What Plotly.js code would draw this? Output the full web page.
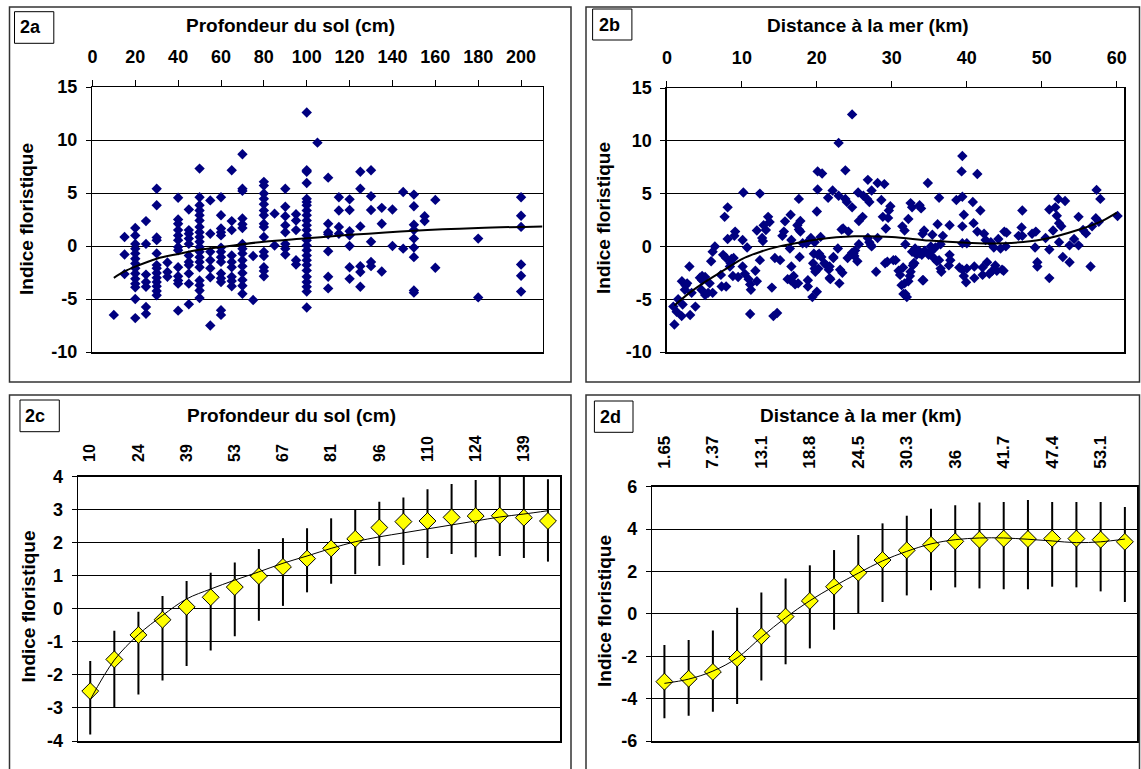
<!DOCTYPE html>
<html>
<head>
<meta charset="utf-8">
<script src="https://cdn.plot.ly/plotly-3.0.1.min.js"></script>
<style>html,body{margin:0;padding:0;background:#fff;}#chart{width:1141px;height:769px;}</style>
</head>
<body>
<div id="chart"></div>
<script>
// ---------- 2a : Profondeur du sol (cm) vs Indice floristique ----------
const a_depth = [10,
15,15,15,
20,20,20,20,20,20,20,20,20,20,20,20,20,20,
25,25,25,25,25,25,25,
30,30,30,30,30,30,30,30,30,30,30,30,30,
35,35,35,
40,40,40,40,40,40,40,40,40,40,40,40,40,
45,45,45,45,45,45,45,45,45,45,45,
50,50,50,50,50,50,50,50,50,50,50,50,50,50,50,50,50,50,50,
55,55,55,55,55,55,55,
60,60,60,60,60,60,60,60,60,60,60,60,60,60,
65,65,65,65,65,65,65,65,65,
70,70,70,70,70,70,70,70,70,70,70,70,70,70,70,
75,75,
80,80,80,80,80,80,80,80,80,80,80,80,80,80,80,
85,85,
90,90,90,90,90,90,90,90,
95,95,95,95,95,
100,100,100,100,100,100,100,100,100,100,100,100,100,100,100,100,100,100,100,100,100,100,100,100,100,
105,
110,110,110,110,110,110,110,
115,115,115,115,
120,120,120,120,120,120,120,
125,125,125,125,125,125,
130,130,130,130,130,130,
135,135,135,
140,140,
145,145,
150,150,150,150,150,150,150,150,150,
155,155,
160,160,
180,180,
200,200,200,200,200,200];
const a_index = [-6.5,
0.85,-0.8,-2.65,
1.7,1.0,0.2,-0.25,-0.7,-1.2,-1.65,-2.1,-2.6,-3.1,-3.55,-3.9,-5.0,-6.8,
2.35,0.2,-2.7,-3.4,-3.85,-5.75,-6.4,
5.4,3.85,0.8,0.55,-0.7,-1.8,-2.1,-2.55,-3.0,-3.4,-3.8,-4.25,-4.65,
-1.55,-2.45,-2.9,
4.55,2.5,2.1,1.5,1.0,0.55,-0.1,-0.4,-2.0,-2.85,-3.25,-3.55,-6.1,
3.45,1.5,1.15,0.7,0.2,-0.9,-1.5,-1.8,-2.6,-3.55,-5.5,
7.3,4.6,3.85,3.35,2.9,2.4,1.8,1.3,0.85,0.4,-0.1,-0.55,-1.05,-1.5,-2.0,-3.25,-3.7,-4.2,-4.9,
4.3,1.15,-0.55,-1.35,-2.1,-2.95,-7.5,
4.6,2.9,1.65,1.3,1.0,-0.15,-0.55,-1.05,-1.5,-2.6,-3.05,-3.4,-6.05,-6.5,
7.15,2.35,1.5,-0.9,-1.5,-2.0,-2.9,-3.3,-3.8,
8.65,5.4,5.2,2.6,2.05,1.7,0.2,-0.25,-0.7,-1.35,-1.9,-2.55,-3.2,-3.75,-4.5,
-0.95,-5.1,
6.05,5.7,4.95,4.45,3.95,3.35,2.9,2.1,1.8,0.85,-0.55,-0.95,-2.0,-2.35,-2.85,
3.05,0.05,
5.4,3.7,2.8,1.95,1.3,0.2,-0.25,-0.8,
3.0,2.4,1.5,-1.35,-1.75,
12.6,7.15,7.0,5.95,4.45,4.15,3.85,3.35,2.9,2.4,1.95,1.5,1.0,0.55,0.05,-0.4,-0.9,-1.35,-1.8,-2.3,-2.9,-3.4,-3.85,-4.3,-5.8,
9.75,
6.45,2.1,1.3,1.1,-0.5,-2.9,-4.0,
4.6,3.35,1.8,1.15,
4.4,3.4,1.4,1.0,0.0,-2.0,-3.1,
7.0,5.4,1.85,-1.9,-2.45,-3.85,
7.15,4.7,3.4,0.4,-1.5,-1.9,
3.6,2.1,-2.4,
3.45,0.0,
5.1,-0.25,
4.85,3.75,2.0,1.5,0.7,-0.15,-1.05,-4.2,-4.4,
2.8,2.35,
4.35,-2.05,
0.7,-4.85,
4.6,2.85,1.8,-1.75,-2.8,-4.3];
const a_trend_x = [10,15,20,30,40,50,60,80,100,120,150,180,210];
const a_trend_y = [-3.0,-2.4,-1.95,-1.2,-0.75,-0.35,-0.1,0.4,0.72,1.05,1.45,1.7,1.85];

// ---------- 2b : Distance à la mer (km) vs Indice floristique ----------
const b_dist = [1.0,0.86,1.3,1.97,3.1,1.5,2.1,2.0,2.5,2.4,3.0,3.3,3.8,4.7,5.1,4.6,5.1,5.5,6.1,5.9,6.1,6.4,7.2,7.3,7.5,7.9,7.7,8.1,7.9,8.1,8.4,8.9,8.6,9.1,9.0,8.8,9.5,10.1,10.1,10.2,10.4,10.7,10.9,11.1,11.1,11.8,12.0,12.4,12.4,12.7,12.8,12.9,13.5,14.0,14.2,14.7,14.4,15.1,15.4,15.6,16.1,16.5,16.6,16.5,16.6,16.9,17.1,17.5,17.6,17.4,17.6,
4.4,5.7,8.5,11.2,13.2,13.7,15.75,16.4,2.7,4.7,12.0,
17.8,17.8,17.7,18.8,18.8,19.4,20.0,19.5,19.7,19.8,20.1,20.6,21.0,21.3,21.7,21.7,22.2,22.8,23.0,23.1,23.4,24.1,24.7,25.1,25.4,25.0,25.6,27.0,27.3,27.9,28.1,29.1,30.5,30.9,31.1,31.5,31.7,31.8,32.0,31.8,32.2,32.4,32.5,32.8,33.0,32.7,33.1,33.3,33.6,34.0,34.2,34.4,34.9,35.2,35.6,36.0,
24.7,22.9,20.1,20.7,23.8,20.1,22.1,21.5,22.9,23.8,24.0,24.7,25.5,26.8,26.2,26.7,27.0,27.3,28.1,29.0,28.6,29.8,29.6,28.8,29.5,26.1,25.6,20.0,23.5,24.2,26.8,31.4,31.7,32.5,32.7,33.9,33.7,32.2,34.3,34.1,34.8,35.4,
18.1,18.6,19.2,19.6,19.7,20.5,20.2,20.3,21.6,21.8,22.2,23.3,24.9,27.2,29.2,29.4,30.2,31.3,31.55,32.9,33.7,34.1,35.2,
39.4,39.3,41.4,36.3,38.6,39.4,40.8,39.6,41.8,40.9,39.4,37.7,36.1,36.8,41.4,42.3,42.5,43.2,44.2,45.0,45.3,39.4,40.0,43.6,44.5,45.2,35.8,36.5,36.3,37.7,37.8,37.6,36.6,36.5,39.0,39.4,40.0,39.6,39.9,41.0,41.0,42.1,42.7,42.1,43.0,43.4,43.8,44.0,44.7,44.9,47.4,47.3,47.4,46.9,48.7,49.2,49.1,49.4,49.4,50.5,51.0,51.0,51.8,52.2,53.1,52.0,51.5,52.3,52.6,51.0,52.3,52.8,53.7,54.3,53.7,54.9,54.9,
55.5,55.9,56.5,56.7,57.3,57.2,57.6,57.8,60.1];
const b_index = [-7.4,-5.7,-6.2,-6.6,-6.5,-5.0,-5.5,-3.3,-3.7,-4.1,-1.9,-4.4,-5.7,-3.2,-2.9,-4.1,-4.6,-4.4,-4.4,-1.4,-0.5,0.0,-2.7,-3.8,-0.8,-1.1,2.8,3.7,-3.8,0.7,-1.9,-1.1,-1.2,1.4,1.0,-2.8,-2.9,0.6,-1.9,5.1,-2.6,-0.1,-3.1,-3.6,-6.4,-2.3,1.5,5.0,-1.3,0.8,0.5,2.0,2.8,-3.9,-6.6,-6.3,-1.1,-1.3,1.0,1.4,-3.1,-3.2,-1.9,3.0,0.6,-2.8,-3.6,-3.5,4.5,2.0,1.6,
-2.97,-3.5,-1.6,-4.1,1.55,2.3,2.37,-0.2,-3.5,-2.8,-3.3,
2.4,1.4,-1.0,-3.2,-3.8,-4.8,-4.3,-1.6,-2.1,-2.4,-0.8,-1.0,-1.6,-1.8,-1.9,-3.0,-1.1,-0.2,-3.5,-2.2,-2.5,-1.1,-0.6,-0.4,-1.4,-0.9,0.2,0.4,0.0,-2.4,0.8,-1.6,-1.3,-2.3,-2.7,-2.0,-3.5,-4.5,-4.8,0.2,-3.3,-2.8,-2.4,-1.8,-1.6,-0.5,-0.2,-0.8,-0.4,-0.8,-3.2,-0.4,-0.8,0.0,-1.1,-1.4,
12.5,9.8,7.1,6.9,7.2,5.4,5.3,4.6,4.8,4.5,4.2,3.7,5.1,6.3,4.8,4.5,4.2,5.3,6.0,5.9,4.4,3.8,3.4,2.8,2.7,2.8,2.4,3.3,1.7,1.4,0.8,1.9,1.5,4.1,3.7,3.6,3.9,2.6,1.5,1.2,6.0,1.1,
0.3,0.3,0.8,-0.7,0.4,0.9,-2.1,-0.7,-2.2,-3.1,-1.0,1.6,-0.66,0.13,1.7,-1.45,-1.3,-3.67,-4.5,-1.6,-0.66,-3.2,-0.5,
8.56,7.1,6.85,4.6,4.4,4.7,4.2,3.0,3.4,2.2,1.9,2.0,2.1,1.0,1.4,1.2,0.6,0.4,0.7,1.4,1.3,0.3,0.3,-0.1,-0.2,0.0,-0.1,0.2,-1.3,-0.8,-1.3,-1.8,-2.4,-2.1,-2.0,-2.2,-2.1,-2.8,-3.4,-1.9,-3.0,-2.0,-1.5,-2.7,-2.6,-2.3,-1.8,-2.3,-2.2,-2.3,3.4,1.8,1.0,1.0,1.2,1.4,-0.1,-1.5,-1.9,0.8,-0.3,3.5,3.7,4.5,4.3,2.9,1.5,2.2,1.9,-3.0,0.4,-1.0,0.1,0.7,-1.5,2.8,0.1,
1.55,1.23,-1.9,1.9,5.35,2.66,2.34,4.5,2.88];
const b_trend_x = [1,3,5,7.5,10,12.5,15,17.5,20,25,30,35,40,45,50,55,58,60];
const b_trend_y = [-5.6,-4.4,-3.4,-2.3,-1.2,-0.5,0.0,0.35,0.65,0.95,0.9,0.55,0.35,0.3,0.65,1.6,2.4,3.2];

// ---------- 2c : classes of soil depth ----------
const c_depth = ["10","17","24","31","39","46","53","60","67","74","81","88","96","103","110","117","124","131","139","146"];
const c_mean  = [-2.49,-1.53,-0.79,-0.33,0.06,0.35,0.66,0.99,1.27,1.52,1.83,2.12,2.46,2.64,2.66,2.77,2.81,2.82,2.76,2.66];
const c_upper = [-1.58,-0.66,-0.09,0.39,0.84,1.09,1.40,1.81,2.14,2.44,2.74,3.01,3.24,3.37,3.62,3.78,3.90,4.10,4.00,3.92];
const c_lower = [-3.80,-2.98,-2.59,-2.17,-1.73,-1.26,-0.83,-0.36,0.09,0.50,0.76,1.05,1.30,1.33,1.54,1.66,1.56,1.60,1.54,1.43];
const c_trend = [-2.75,-1.55,-0.78,-0.2,0.3,0.6,0.87,1.12,1.38,1.6,1.83,2.03,2.18,2.3,2.42,2.54,2.66,2.78,2.87,2.97];

// ---------- 2d : classes of distance to sea ----------
const d_dist  = ["1.65","4.51","7.37","10.2","13.1","15.9","18.8","21.6","24.5","27.4","30.3","33.1","36","38.8","41.7","44.6","47.4","50.3","53.1","56"];
const d_mean  = [-3.20,-3.06,-2.74,-2.10,-1.06,-0.13,0.61,1.28,1.94,2.54,3.00,3.26,3.42,3.50,3.55,3.53,3.55,3.55,3.50,3.40];
const d_upper = [-1.47,-1.23,-0.79,0.29,1.01,1.67,2.29,3.01,3.72,4.27,4.63,4.96,5.13,5.25,5.28,5.37,5.28,5.28,5.28,5.04];
const d_lower = [-4.93,-4.81,-4.62,-4.25,-3.15,-2.38,-1.63,-0.75,0.00,0.56,0.87,1.11,1.25,1.20,1.16,1.16,1.28,1.25,1.06,0.56];
const d_trend = [-3.28,-3.08,-2.7,-2.08,-1.1,-0.18,0.62,1.3,1.92,2.5,2.95,3.3,3.5,3.58,3.58,3.52,3.44,3.36,3.4,3.53];

// ---------- tick labels & texts ----------
const ab_yticks = [-10,-5,0,5,10,15];
const ab_ylabels = ["-10","-5","0","5","10","15"];
const c_yticks = [-4,-3,-2,-1,0,1,2,3,4];
const c_ylabels = ["-4","-3","-2","-1","0","1","2","3","4"];
const d_yticks = [-6,-4,-2,0,2,4,6];
const d_ylabels = ["-6","-4","-2","0","2","4","6"];
const T_DEPTH = "Profondeur du sol (cm)";
const T_DIST = "Distance à la mer (km)";
const Y_TITLE = "Indice floristique";
const PANEL_LABELS = ["2a","2b","2c","2d"];

// ---------- layout helpers ----------
const W = 1141, H = 769;
const fx = p => p / W;
const fy = p => 1 - p / H;
const FONT = "Liberation Sans, Arial, sans-serif";
const BLK = "#000";

const c_plus  = c_upper.map((u,i)=>u - c_mean[i]);
const c_minus = c_mean.map((m,i)=>m - c_lower[i]);
const d_plus  = d_upper.map((u,i)=>u - d_mean[i]);
const d_minus = d_mean.map((m,i)=>m - d_lower[i]);

const traces = [
  {x:a_depth, y:a_index, type:"scatter", mode:"markers", xaxis:"x", yaxis:"y",
   marker:{symbol:"diamond", size:8, color:"#000080"}},
  {x:a_trend_x, y:a_trend_y, type:"scatter", mode:"lines", xaxis:"x", yaxis:"y",
   line:{color:BLK, width:2, shape:"spline", smoothing:1}},
  {x:b_dist, y:b_index, type:"scatter", mode:"markers", xaxis:"x2", yaxis:"y2",
   marker:{symbol:"diamond", size:8, color:"#000080"}},
  {x:b_trend_x, y:b_trend_y, type:"scatter", mode:"lines", xaxis:"x2", yaxis:"y2",
   line:{color:BLK, width:2, shape:"spline", smoothing:1}},
  {x:c_depth, y:c_mean, type:"scatter", mode:"markers", xaxis:"x3", yaxis:"y3",
   marker:{symbol:"diamond", size:13, color:"#FFFF00", line:{color:BLK, width:1}},
   error_y:{type:"data", symmetric:false, array:c_plus, arrayminus:c_minus, color:BLK, thickness:2, width:0}},
  {x:c_depth, y:c_trend, type:"scatter", mode:"lines", xaxis:"x3", yaxis:"y3",
   line:{color:BLK, width:1, shape:"spline", smoothing:1}},
  {x:d_dist, y:d_mean, type:"scatter", mode:"markers", xaxis:"x4", yaxis:"y4",
   marker:{symbol:"diamond", size:13, color:"#FFFF00", line:{color:BLK, width:1}},
   error_y:{type:"data", symmetric:false, array:d_plus, arrayminus:d_minus, color:BLK, thickness:2, width:0}},
  {x:d_dist, y:d_trend, type:"scatter", mode:"lines", xaxis:"x4", yaxis:"y4",
   line:{color:BLK, width:1, shape:"spline", smoothing:1}}
];

const TICKFONT = {family:FONT, size:18, color:BLK, weight:"bold"};
function xAxisBase(){
  return {side:"top", showline:true, linecolor:BLK, linewidth:1.5, mirror:true,
    showgrid:false, zeroline:false, ticks:"outside", tickcolor:BLK, ticklen:6, tickwidth:1,
    ticklabelstandoff:9, tickfont:TICKFONT};
}
function yAxisBase(range, vals, texts){
  return {range:range, tickmode:"array", tickvals:vals, ticktext:texts,
    showline:true, linecolor:BLK, linewidth:1.5, mirror:true,
    showgrid:true, gridcolor:BLK, gridwidth:1, zeroline:false,
    ticks:"outside", tickcolor:BLK, ticklen:5, tickwidth:1, ticklabelstandoff:5,
    tickfont:TICKFONT};
}
function tickOverlay(over, anchor, side){
  return {overlaying:over, anchor:anchor, side:"top", range:[-0.5,19.5], tickmode:"linear", tick0:-0.5, dtick:1,
    ticks:side, ticklen:5, tickcolor:BLK, tickwidth:1, showticklabels:false, showgrid:false, zeroline:false, showline:false, fixedrange:true};
}
function ann(text, x, y, size, angle, anchor){
  return {text:text, xref:"paper", yref:"paper", x:fx(x), y:fy(y), xanchor:anchor||"center", yanchor:"middle",
    showarrow:false, textangle:angle||0, font:{family:FONT, size:size, color:BLK, weight:"bold"}};
}
function frame(x0,x1,y0,y1,w,col,fill){
  return {type:"rect", xref:"paper", yref:"paper", x0:fx(x0), x1:fx(x1), y0:fy(y1), y1:fy(y0),
    line:{color:col, width:w}, fillcolor:fill||"rgba(0,0,0,0)"};
}

const layout = {
  width:W, height:H, margin:{l:0,r:0,t:0,b:0}, paper_bgcolor:"#fff", plot_bgcolor:"#fff",
  showlegend:false, font:{family:FONT, color:BLK},
  xaxis: Object.assign(xAxisBase(), {domain:[fx(92.4), fx(542.5)], anchor:"y", range:[0,210], tick0:0, dtick:20}),
  yaxis: Object.assign(yAxisBase([-10,15], ab_yticks, ab_ylabels), {domain:[fy(352), fy(87)], anchor:"x"}),
  xaxis2: Object.assign(xAxisBase(), {domain:[fx(666.9), fx(1124.3)], anchor:"y2", range:[0,61], tick0:0, dtick:10}),
  yaxis2: Object.assign(yAxisBase([-10,15], ab_yticks, ab_ylabels), {domain:[fy(352), fy(88)], anchor:"x2"}),
  xaxis3: Object.assign(xAxisBase(), {domain:[fx(78.2), fx(560)], anchor:"y3", type:"category",
     categoryorder:"array", categoryarray:c_depth, range:[-0.5,19.5], tickmode:"array",
     tickvals:c_depth.filter((v,i)=>i%2===0), tickangle:-90, ticks:"", ticklabelstandoff:10,
     tickfont:{family:FONT, size:16, color:BLK, weight:"bold"}}),
  yaxis3: Object.assign(yAxisBase([-4,4], c_yticks, c_ylabels), {domain:[fy(741), fy(476.7)], anchor:"x3"}),
  xaxis4: Object.assign(xAxisBase(), {domain:[fx(652.3), fx(1137)], anchor:"y4", type:"category",
     categoryorder:"array", categoryarray:d_dist, range:[-0.5,19.5], tickmode:"array",
     tickvals:d_dist.filter((v,i)=>i%2===0), tickangle:-90, ticks:"", ticklabelstandoff:13,
     tickfont:{family:FONT, size:17, color:BLK, weight:"bold"}}),
  yaxis4: Object.assign(yAxisBase([-6,6], d_yticks, d_ylabels), {domain:[fy(741), fy(486.7)], anchor:"x4"}),
  xaxis5: tickOverlay("x3","y3","outside"),
  xaxis6: tickOverlay("x3","y3","inside"),
  xaxis7: tickOverlay("x4","y4","outside"),
  xaxis8: tickOverlay("x4","y4","inside"),
  shapes: [
    frame(9.5, 571, 7, 382, 1.5, "#333"),
    frame(586, 1139.5, 7, 382, 1.5, "#333"),
    frame(9.5, 571, 395, 775, 1.5, "#333"),
    frame(586, 1139.5, 395, 775, 1.5, "#333"),
    frame(14.5, 53.8, 11.7, 43.3, 1, BLK, "#fff"),
    frame(592.6, 631.9, 9, 40, 1, BLK, "#fff"),
    frame(20, 59.3, 400, 431.7, 1, BLK, "#fff"),
    frame(594.4, 633, 401, 432.3, 1, BLK, "#fff")
  ],
  annotations: [
    ann(PANEL_LABELS[0], 18, 27, 18, 0, "left"),
    ann(PANEL_LABELS[1], 596.5, 25, 18, 0, "left"),
    ann(PANEL_LABELS[2], 23, 416, 18, 0, "left"),
    ann(PANEL_LABELS[3], 597.5, 417, 18, 0, "left"),
    ann(T_DEPTH, 290.5, 25.5, 19),
    ann(T_DIST, 868, 25, 19),
    ann(T_DEPTH, 291, 415.5, 19),
    ann(T_DIST, 861, 415.5, 19),
    ann(Y_TITLE, 27, 219, 19, -90),
    ann(Y_TITLE, 603, 218, 19, -90),
    ann(Y_TITLE, 27.5, 607, 19, -90),
    ann(Y_TITLE, 604, 611, 19, -90)
  ]
};

Plotly.newPlot("chart", traces, layout, {displayModeBar:false, staticPlot:true});
</script>
</body>
</html>
